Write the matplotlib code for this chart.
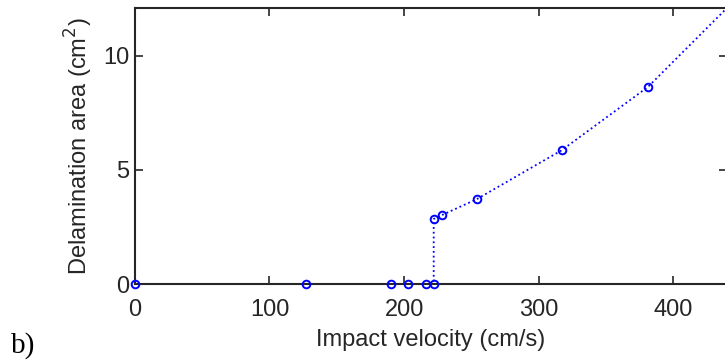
import matplotlib
matplotlib.use('Agg')
import matplotlib.pyplot as plt

# impact velocity (cm/s) vs delamination area (cm^2)
velocity = [0, 127, 190, 203, 216, 222, 222, 228, 254, 317, 381, 445]
area = [0, 0, 0, 0, 0, 0, 2.85, 3.02, 3.72, 5.86, 8.63, 12.4]

x_ticks = [0, 100, 200, 300, 400]
y_ticks = [0, 5, 10]

plt.rcParams['font.family'] = ['Liberation Sans', 'DejaVu Sans']

fig = plt.figure(figsize=(7.25, 3.6), dpi=100)
ax = fig.add_axes([0.186, 0.211, 0.817, 0.767])

blue = '#0000ff'
ax.plot(velocity, area, color=blue, linestyle=':', linewidth=1.3)
# markers for the points inside the frame, drawn unclipped so the ones on y=0 show whole
inside = [i for i, v in enumerate(velocity) if v <= 440]
ax.plot([velocity[i] for i in inside], [area[i] for i in inside], linestyle='none',
        marker='o', markersize=5.5, markerfacecolor='none', markeredgecolor=blue,
        markeredgewidth=1.4, clip_on=False, zorder=3)

ax.set_xlim(0, 440)
ax.set_ylim(0, 12.1)
ax.set_xticks(x_ticks)
ax.set_yticks(y_ticks)
ax.tick_params(direction='in', length=6, width=1.2, labelsize=17,
               top=True, right=True, colors='#262626', labelcolor='#262626')
ax.tick_params(axis='x', pad=10.5)
ax.tick_params(axis='y', pad=4)
for s in ax.spines.values():
    s.set_linewidth(1.5)
    s.set_color('#262626')

ax.set_xlabel('Impact velocity (cm/s)', fontsize=17, color='#262626', labelpad=6)
ax.set_ylabel('Delamination area (cm$^2$)', fontsize=17, color='#262626', labelpad=6)

fig.text(0.015, 0.02, 'b)', fontsize=21, family='Liberation Serif', color='black')

fig.savefig('out.png', dpi=100)
